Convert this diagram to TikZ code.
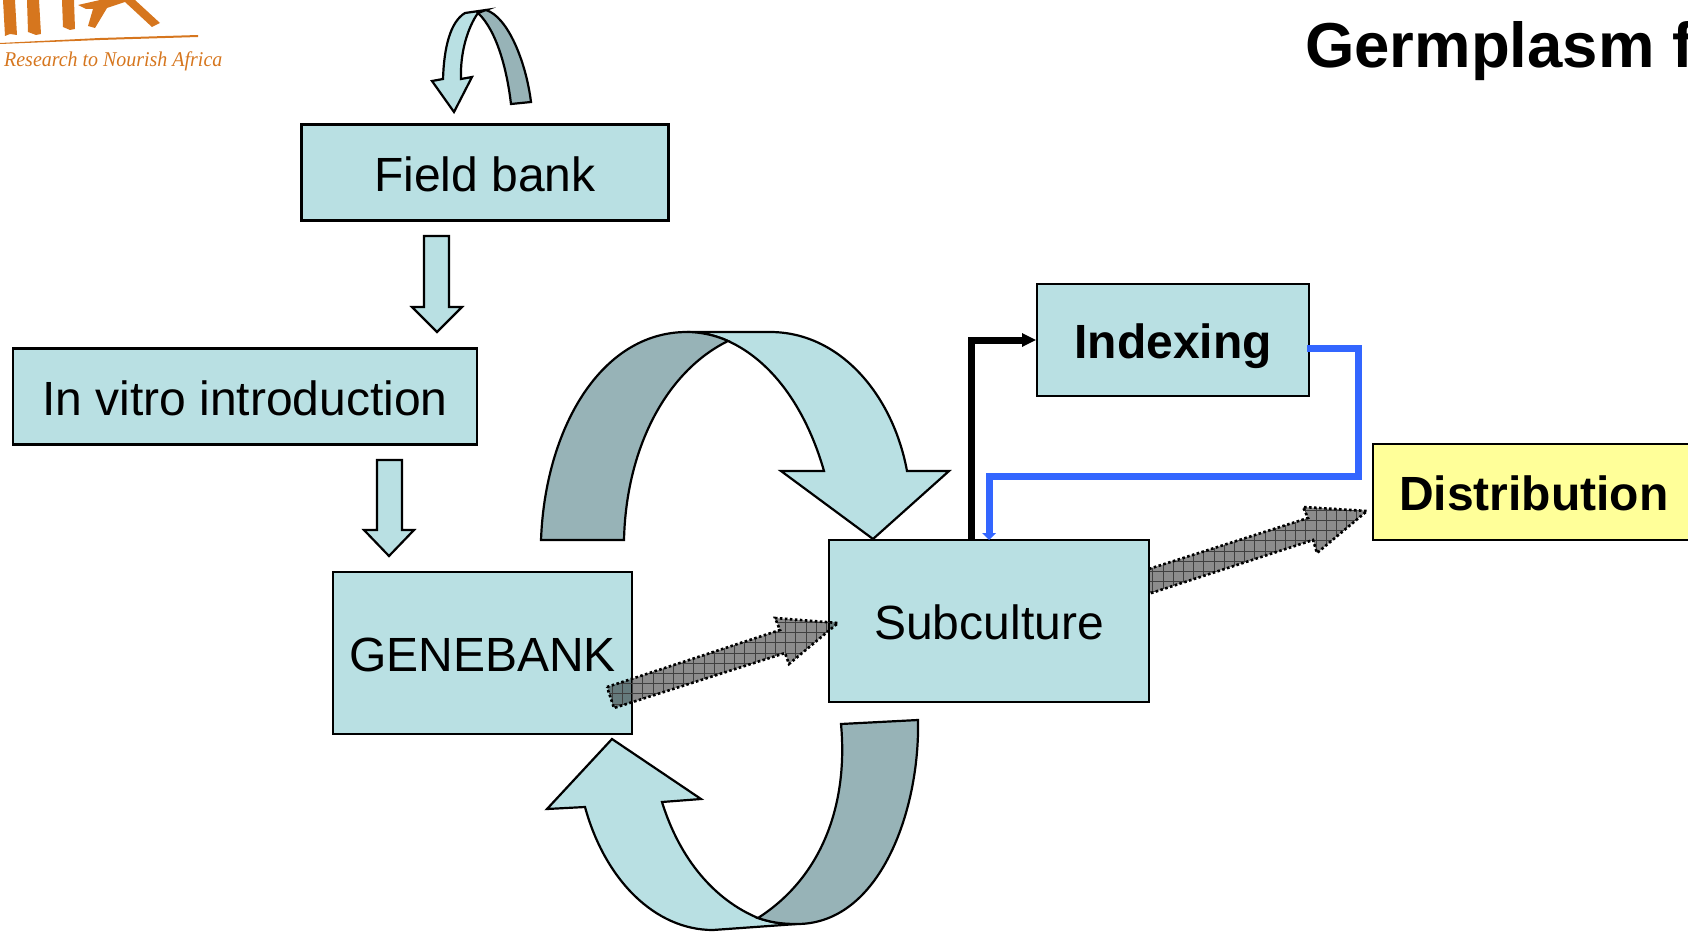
\documentclass[tikz,border=0pt]{standalone}
\usepackage{fontspec}
\setmainfont{Liberation Sans}
\newfontfamily\logofont{Liberation Serif}
\definecolor{teal1}{HTML}{B9E0E3}
\definecolor{teal2}{HTML}{97B3B7}
\definecolor{yell}{HTML}{FFFF99}
\definecolor{blueline}{HTML}{3366FF}
\definecolor{logoor}{HTML}{D6761E}
\tikzset{
  boxnode/.style={draw=black,line width=2.5pt,fill=teal1,inner sep=0pt,text height=37pt,text depth=0pt,font=\fontsize{48}{50}\selectfont},
  boldtxt/.style={font=\fontsize{48}{50}\selectfont\bfseries},
  lightshape/.style={draw=black,line width=2.2pt,fill=teal1,line join=miter},
  darkshape/.style={draw=black,line width=2.2pt,fill=teal2,line join=miter},
  hatchborder/.style={draw=black,line width=2.6pt,dash pattern=on 2.6pt off 2.4pt},
  logoshape/.style={fill=logoor,draw=none}
}
\newcommand{\hatcharrow}[1]{%
  \fill[black,fill opacity=.45] #1;
  \begin{scope}
    \clip #1;
    \draw[black!75,line width=.6pt,step=10.2pt] (560,480) grid (1400,730);
  \end{scope}
  \path[hatchborder] #1;
}
\begin{document}
\begin{tikzpicture}[x=1pt,y=-1pt]
\useasboundingbox (0,0) rectangle (1688,931);
\clip (0,0) rectangle (1688,931);
% logo
\fill[logoshape] (3,0)--(15,0)--(17,35)--(10,34)--(5,36)--cycle;
\fill[logoshape] (27,0)--(39,0)--(41,34)--(36,35)--(28,32)--cycle;
\fill[logoshape] (62,0)--(74,0)--(75,29)--(70,30)--(63,27)--cycle;
\fill[logoshape] (78,5)--(100,0)--(135,0)--(160,23)--(152,27)--(125,2)--(107,8)--(95,28)--(88,26)--(93,9)--(86,9)--cycle;
\fill[logoshape] (0,43)--(100,38)--(198,35)--(198,37)--(100,40)--(0,44)--cycle;
\node[anchor=base west,inner sep=0pt,text=logoor,font=\logofont\itshape\fontsize{21}{23}\selectfont] (logotext) at (4,67) {\scalebox{.95}[1]{Research to Nourish Africa}};
% title
\node[anchor=base west,inner sep=0pt,font=\fontsize{63.5}{65}\selectfont\bfseries] (title) at (1305,68) {Germplasm f};
% hidden tail of second arrow is under the box
\hatcharrow{(1130,575)--(1308,518)--(1303,507)--(1367,511)--(1317,553)--(1313,540)--(1130,600)--cycle}
% boxes
\node[boxnode,minimum width=367pt,minimum height=96pt] (field) at (485,172.5) {Field bank};
\node[boxnode,minimum width=464pt,minimum height=96pt] (vitro) at (245,396.5) {In vitro introduction};
\node[boxnode,minimum width=299pt,minimum height=162pt] (gene) at (482.5,653) {GENEBANK};
\node[boxnode,minimum width=320pt,minimum height=162pt] (sub) at (989,621) {Subculture};
\node[boxnode,boldtxt,minimum width=272pt,minimum height=112pt] (idx) at (1173,340) {Indexing};
\node[boxnode,boldtxt,fill=yell,minimum width=330pt,minimum height=96pt,text width=278pt,align=left] (dist) at (1538,492) {Distribution};
% connectors
\coordinate (bstart) at (971,540);
\coordinate (blstart) at (1307,348);
\coordinate (blend) at (989,540);
\draw[black,line width=7pt,line join=miter] (bstart) -- (971,340) -- (1022,340);
\fill[black] (idx.west) -- (1022,333) -- (1022,347) -- cycle;
\draw[blueline,line width=7pt,line join=miter] (blstart) -- (1358,348) -- (1358,476) -- (989,476) -- (989,533);
\fill[blueline] (blend) -- (982,533) -- (996,533) -- cycle;
% small top arrow
\path[lightshape] (454,112)--(432,81)--(443,79) .. controls (444,48) and (450,22) .. (465,13) -- (486,10) -- (478,13) .. controls (468,27) and (460,52) .. (461,79) -- (472,77) -- cycle;
\path[darkshape] (478,13) -- (486,10) .. controls (508,17) and (526,62) .. (531,102) -- (511,104) .. controls (507,70) and (497,31) .. (478,13) -- cycle;
% straight arrows
\path[lightshape] (424,236)--(449,236)--(449,307)--(462,307)--(437,332)--(412,307)--(424,307)--cycle;
\path[lightshape] (377,460)--(402,460)--(402,530)--(414,530)--(389,556)--(364,530)--(377,530)--cycle;
% large upper arrow
\path[lightshape] (687,332)--(770,332) .. controls (840,332) and (893,395) .. (907,471) -- (949,471) -- (873,539) -- (781,471) -- (824,471) .. controls (805,405) and (770,360) .. (728,341) .. controls (715,335) and (700,332) .. (687,332) -- cycle;
\path[darkshape] (541,540) .. controls (545,430) and (600,332) .. (687,332) .. controls (700,332) and (715,335) .. (728,341) .. controls (665,372) and (626,450) .. (624,540) -- cycle;
% large lower arrow
\path[lightshape] (612,739)--(701,799)--(662,802) .. controls (680,860) and (715,900) .. (758,918) .. controls (770,922) and (780,924) .. (797,924) -- (713,930) .. controls (655,930) and (605,880) .. (585,807) -- (547,809) -- cycle;
\path[darkshape] (841,724)--(918,720) .. controls (920,810) and (880,924) .. (797,924) .. controls (780,924) and (770,922) .. (758,918) .. controls (825,875) and (848,800) .. (841,724) -- cycle;
% hatched arrow over boxes
\hatcharrow{(607,687)--(780,630)--(775,618)--(838,623)--(789,664)--(785,653)--(614,708)--cycle}
\end{tikzpicture}
\end{document}
